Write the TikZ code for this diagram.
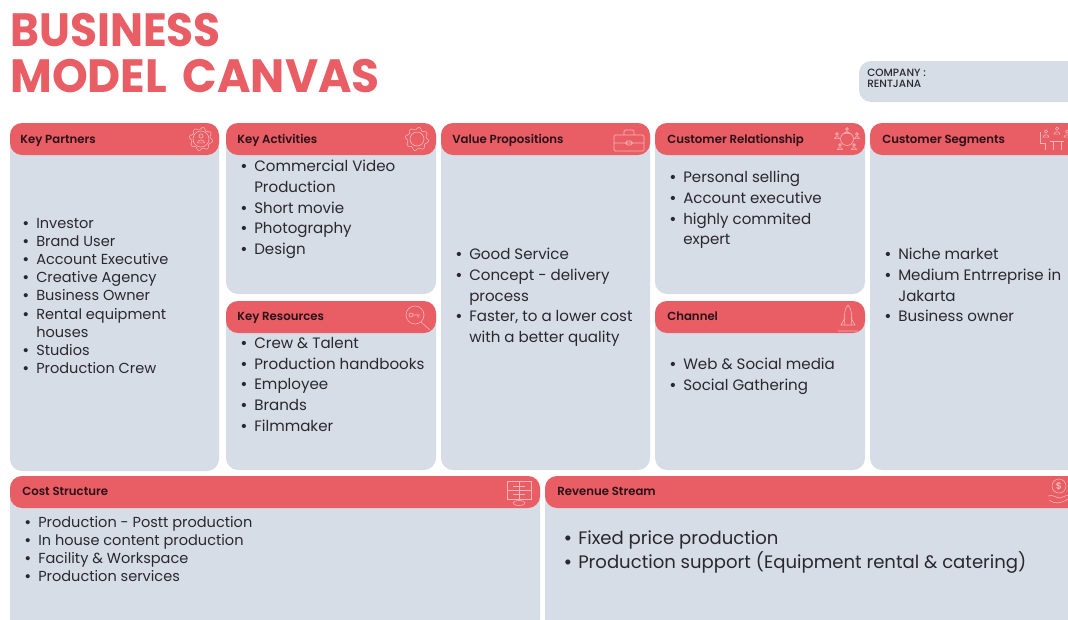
\documentclass[tikz,border=0pt]{standalone}
\usepackage{fontspec}
\setmainfont[BoldFont={Poppins SemiBold}]{Poppins}
\newfontfamily\titlefont{Poppins}
\newfontfamily\medfont{Poppins Medium}
\definecolor{redhead}{HTML}{E95D65}
\definecolor{panelblue}{HTML}{D6DDE6}
\definecolor{inkdark}{HTML}{2A2730}
\definecolor{inkhead}{HTML}{2A1218}
\definecolor{iconline}{HTML}{F6B5B8}
\newlength{\bulletgap}
\newcommand{\bl}[1]{\makebox[0pt][l]{\kern-\bulletgap\textbf{•}}#1}
\newcommand{\panel}[4]{%
  \fill[panelblue,rounded corners=9pt] (#1,#2) rectangle (#3,#4);
  \fill[redhead,rounded corners=9pt] (#1,#2) rectangle (#3,#2+32);}
\newcommand{\geariconx}[3]{\draw[iconstroke] plot[domain=0:360,samples=121,smooth] ({#1+(#3+1.2*sin(8*\x))*cos(\x)},{#2+(#3+1.2*sin(8*\x))*sin(\x)}) -- cycle;}
\newcommand{\personicon}[3]{\draw[iconstroke] (#1,#2-#3) circle (#3*0.7) (#1-#3*1.2,#2+#3*1.3) .. controls (#1-#3*1.2,#2) and (#1+#3*1.2,#2) .. (#1+#3*1.2,#2+#3*1.3) -- cycle;}
\tikzset{
  x=0.75pt,y=-0.75pt,
  headlabel/.style={anchor=base west,inner sep=0pt,text=inkhead,font=\fontsize{8.8}{11}\selectfont\bfseries},
  listtext/.style={anchor=north west,inner sep=0pt,align=left,text=inkdark},
  smalllist/.style={listtext,font=\fontsize{10.9}{13.6}\selectfont},
  midlist/.style={listtext,font=\fontsize{11.3}{15.55}\selectfont},
  iconstroke/.style={draw=iconline,line width=0.45pt,fill=none},
  titletext/.style={anchor=base west,inner sep=0pt,text=redhead,font=\titlefont\fontsize{35}{40}\selectfont\bfseries},
}
\begin{document}
\begin{tikzpicture}
\useasboundingbox (0,0) rectangle (1068,619);
\clip (0,0) rectangle (1068,619);
\fill[white] (0,0) rectangle (1068,619);
\node[titletext] (titleA) at (10,46) {\scalebox{.94}[1]{BUSINESS}};
\node[titletext] (titleB) at (10,92) {\scalebox{.975}[1]{MODEL\hspace{4.5pt} CANVAS}};
\fill[panelblue,rounded corners=9pt] (859,61) rectangle (1090,102);
\node[anchor=north west,inner sep=0pt,align=left,text=inkdark,font=\medfont\fontsize{7.9}{8.3}\selectfont] (company) at (867,68.5) {COMPANY :\\RENTJANA};
\panel{10}{123}{219}{471}
\panel{226}{123}{436}{294}
\panel{226}{301}{436}{470}
\panel{441}{123}{650}{470}
\panel{655}{123}{865}{294}
\panel{655}{301}{865}{470}
\panel{870}{123}{1090}{470}
\panel{10}{476}{540}{640}
\panel{545}{476}{1090}{640}
\node[headlabel] (h1) at (20,143) {Key Partners};
\node[headlabel] (h2) at (237,143) {Key Activities};
\node[headlabel] (h3) at (452,143) {Value Propositions};
\node[headlabel] (h4) at (667,143) {Customer Relationship};
\node[headlabel] (h5) at (882,143) {Customer Segments};
\node[headlabel] (h6) at (237,320) {Key Resources};
\node[headlabel] (h7) at (667,320) {Channel};
\node[headlabel] (h8) at (22,495) {Cost Structure};
\node[headlabel] (h9) at (557,495) {Revenue Stream};
% lists
\setlength{\bulletgap}{10.5pt}
\node[smalllist] (l1) at (36,218) {\bl{Investor}\\\bl{Brand User}\\\bl{Account Executive}\\\bl{Creative Agency}\\\bl{Business Owner}\\\bl{Rental equipment}\\houses\\\bl{Studios}\\\bl{Production Crew}};
\node[midlist] (l2) at (254,160) {\bl{Commercial Video}\\Production\\\bl{Short movie}\\\bl{Photography}\\\bl{Design}};
\node[midlist] (l3) at (254,337) {\bl{Crew \& Talent}\\\bl{Production handbooks}\\\bl{Employee}\\\bl{Brands}\\\bl{Filmmaker}};
\node[midlist] (l4) at (469,248) {\bl{Good Service}\\\bl{Concept - delivery}\\process\\\bl{Faster, to a lower cost}\\with a better quality};
\node[midlist] (l5) at (683,171) {\bl{Personal selling}\\\bl{Account executive}\\\bl{highly commited}\\expert};
\node[midlist] (l6) at (683,358) {\bl{Web \& Social media}\\\bl{Social Gathering}};
\node[midlist] (l7) at (898,248) {\bl{Niche market}\\\bl{Medium Entrreprise in}\\Jakarta\\\bl{Business owner}};
\node[smalllist] (l8) at (38,516) {\bl{Production - Postt production}\\\bl{In house content production}\\\bl{Facility \& Workspace}\\\bl{Production services}};
\setlength{\bulletgap}{11pt}
\node[listtext,font=\fontsize{13.55}{18.4}\selectfont] (l9) at (578,530) {\bl{Fixed price production}\\\bl{Production support (Equipment rental \& catering)}};
% icons
\geariconx{201}{139}{10.5}
\personicon{201}{139}{3}
\draw[iconstroke] (201,139) circle (8);
\geariconx{417}{139}{10.5}
\draw[iconstroke] (417,139) circle (7);
\draw[iconstroke,rounded corners=1pt] (614,135) rectangle (644,151) (614,143) -- (644,143) (624,135) -- (624,130) -- (634,130) -- (634,135) (626,141) rectangle (632,145);
\draw[iconstroke] (847,139) circle (6.5);
\personicon{847}{131}{2}
\personicon{857}{136}{2}
\personicon{854}{147}{2}
\personicon{840}{147}{2}
\personicon{837}{136}{2}
\personicon{1046}{134}{2.4}
\personicon{1057}{131}{2.4}
\personicon{1067}{134}{2.4}
\draw[iconstroke] (1040,132) -- (1040,143) -- (1045,143) -- (1045,150) (1050,141) -- (1064,141) (1053,141) -- (1053,150) (1061,141) -- (1061,150);
\draw[iconstroke] (415,315) circle (9) (421,322) -- (430,330) (411,315) circle (2) (413,315) -- (420,315) (418,315) -- (418,318);
\draw[iconstroke] (848,305) .. controls (843,311) and (844,320) .. (845,325) -- (851,325) .. controls (852,320) and (853,311) .. (848,305) (845,318) -- (841,325) -- (845,325) (851,318) -- (855,325) -- (851,325) (838,331) -- (858,331);
\draw[iconstroke] (507,481) rectangle (531,499) (507,490) -- (531,490) (519,481) -- (519,499) (513,486) -- (525,486) (513,494) -- (525,494);
\draw[iconstroke] (519,503) ellipse (6 and 2.5);
\draw[iconstroke] (1059,486) circle (7);
\node[inner sep=0pt,text=iconline,font=\fontsize{7}{8}\selectfont\bfseries] (dollar) at (1059,486) {\$};
\draw[iconstroke] (1048,496) .. controls (1053,494) and (1056,498) .. (1060,498) -- (1068,495) (1049,500) .. controls (1054,504) and (1060,504) .. (1068,499);
\end{tikzpicture}
\end{document}
